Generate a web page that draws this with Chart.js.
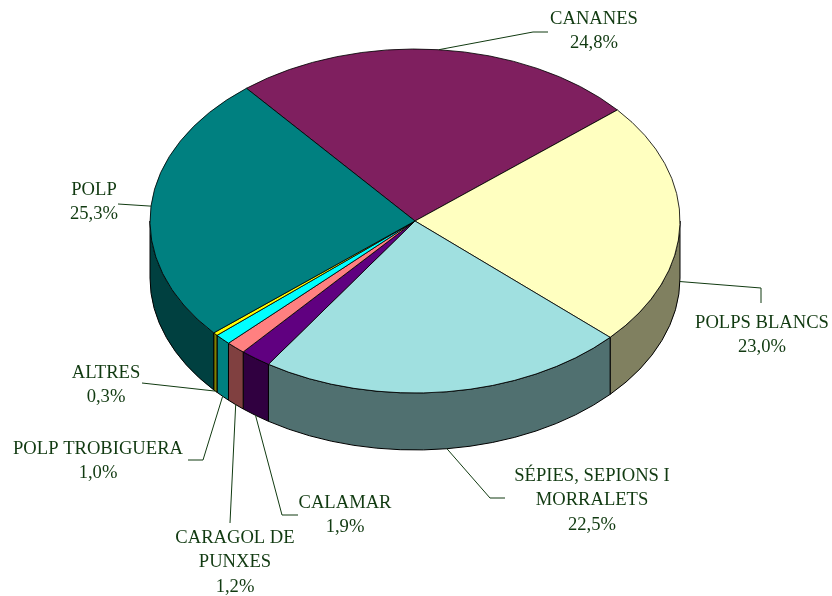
<!DOCTYPE html>
<html lang="ca">
<head>
<meta charset="UTF-8">
<title>Captures per espècie</title>
<script src="https://cdn.jsdelivr.net/npm/chart.js"></script>
<style>body{margin:0;background:#fff}</style>
</head>
<body>
<canvas id="pieChart" width="832" height="596"></canvas>
<script>
// data
const categories = [['CANANES'], ['POLPS BLANCS'], ['SÉPIES, SEPIONS I', 'MORRALETS'], ['CALAMAR'],
    ['CARAGOL DE', 'PUNXES'], ['POLP TROBIGUERA'], ['ALTRES'], ['POLP']];
const percentages = [24.8, 23.0, 22.5, 1.9, 1.2, 1.0, 0.3, 25.3];

const topColors = ['#7f1f5f', '#ffffc0', '#a0e0e0', '#600080', '#ff8080', '#00ffff', '#ffff00', '#008080'];
const sideColors = ['#401030', '#808060', '#507070', '#300040', '#804040', '#008080', '#808000', '#004040'];

// where the labels sit: text centre, first line y, leader line points after the anchor
const labelLayout = [
    {x: 594, y: 19, path: [[533, 32], [548, 32]]},
    {x: 762, y: 323, path: [[761, 288], [761, 303]]},
    {x: 592, y: 476, path: [[490, 498], [505, 498]]},
    {x: 345, y: 503, path: [[282, 515], [298, 515]]},
    {x: 235, y: 538, path: [[230, 523]]},
    {x: 98, y: 449, path: [[203, 460], [188, 460]]},
    {x: 106, y: 373, path: [[142, 383]]},
    {x: 94, y: 190, path: [[118, 204]]}
];

const CX = 415, CY = 221, TILT = 0.649, DEPTH = 57;
const TEXT_COLOR = '#113a11';
const LINE_H = 24.5;

const pie3d = {
    id: 'pie3d',
    beforeDatasetsDraw(chart) {
        const ctx = chart.ctx;
        const arcs = chart.getDatasetMeta(0).data;
        const r = arcs[0].outerRadius;

        // side wall, only the front half shows
        ctx.save();
        ctx.lineWidth = 1;
        ctx.strokeStyle = '#000';
        arcs.forEach((arc, i) => {
            for (let k = -1; k <= 2; k++) {
                const a = Math.max(arc.startAngle, 2 * Math.PI * k);
                const b = Math.min(arc.endAngle, 2 * Math.PI * k + Math.PI);
                if (b <= a) continue;
                ctx.beginPath();
                ctx.ellipse(CX, CY, r, r * TILT, 0, a, b);
                ctx.ellipse(CX, CY + DEPTH, r, r * TILT, 0, b, a, true);
                ctx.closePath();
                ctx.fillStyle = sideColors[i];
                ctx.fill();
                ctx.stroke();
            }
        });
        ctx.restore();

        // squash the top face into an ellipse
        ctx.save();
        ctx.translate(CX, CY);
        ctx.scale(1, TILT);
        ctx.translate(-arcs[0].x, -arcs[0].y);
    },
    afterDatasetsDraw(chart) {
        chart.ctx.restore();
    },
    afterDraw(chart) {
        const ctx = chart.ctx;
        const arcs = chart.getDatasetMeta(0).data;
        const r = arcs[0].outerRadius;
        ctx.save();
        ctx.strokeStyle = TEXT_COLOR;
        ctx.fillStyle = TEXT_COLOR;
        ctx.lineWidth = 1;
        ctx.font = '18.6px "Liberation Serif", "Times New Roman", serif';
        ctx.textAlign = 'center';
        ctx.textBaseline = 'middle';
        arcs.forEach((arc, i) => {
            const m = (arc.startAngle + arc.endAngle) / 2;
            const s = Math.sin(m);
            const ax = CX + r * Math.cos(m);
            const ay = CY + r * TILT * s + (s > 0 ? DEPTH : 0);
            const lay = labelLayout[i];
            ctx.beginPath();
            ctx.moveTo(ax, ay);
            lay.path.forEach(p => ctx.lineTo(p[0], p[1]));
            ctx.stroke();

            const lines = categories[i].concat([percentages[i].toFixed(1).replace('.', ',') + '%']);
            lines.forEach((t, j) => ctx.fillText(t, lay.x, lay.y + j * LINE_H));
        });
        ctx.restore();
    }
};

new Chart(document.getElementById('pieChart').getContext('2d'), {
    type: 'pie',
    data: {
        labels: categories.map(c => c.join(' ')),
        datasets: [{
            data: percentages,
            backgroundColor: topColors,
            borderColor: '#000',
            borderWidth: 1,
            clip: false
        }]
    },
    options: {
        responsive: false,
        animation: false,
        events: [],
        rotation: 320.5,
        layout: {padding: {left: 150, right: 151, top: 10, bottom: 55}},
        plugins: {
            legend: {display: false},
            tooltip: {enabled: false}
        }
    },
    plugins: [pie3d]
});
</script>
</body>
</html>
